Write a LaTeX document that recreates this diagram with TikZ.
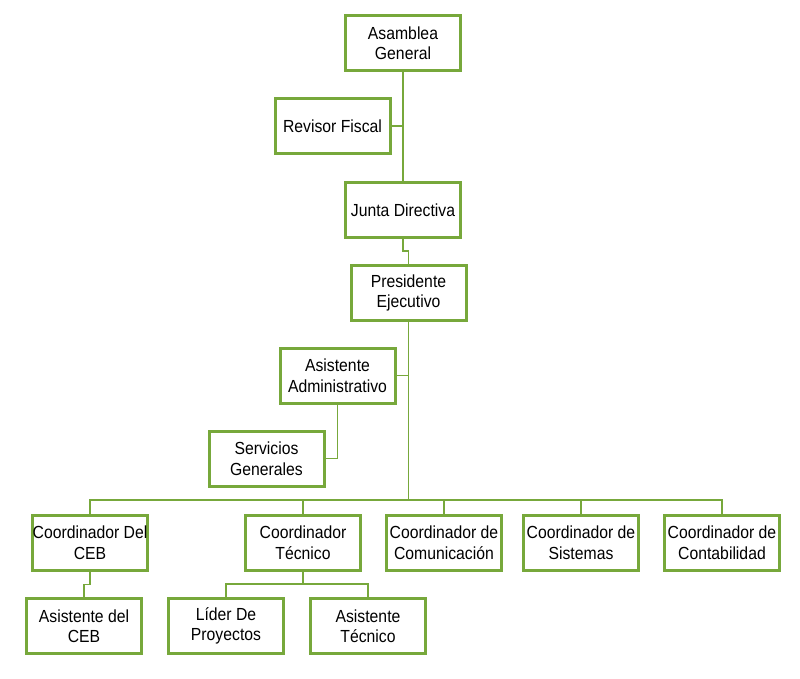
\documentclass[tikz,border=0pt]{standalone}
\usepackage{fontspec}
\setmainfont{Liberation Sans}[FakeStretch=0.9]
\definecolor{orggreen}{RGB}{119,168,59}
\begin{document}
\begin{tikzpicture}[x=1pt, y=-1pt, box node/.style={shape=rectangle, draw=orggreen, line width=3pt, fill=white, minimum width=115pt, minimum height=55pt, inner sep=0pt, align=center, font=\fontsize{17.5}{20.5}\selectfont}, link/.style={draw=orggreen, line width=1.5pt}]
\useasboundingbox (0,0) rectangle (800,678);
\node[box node] (A) at (403,43) {Asamblea\\General};
\node[box node] (R) at (332.5,126) {Revisor Fiscal};
\node[box node] (J) at (403,210) {Junta Directiva};
\node[box node] (P) at (408.5,293) {Presidente\\Ejecutivo};
\node[box node] (AA) at (337.5,375.5) {Asistente\\Administrativo};
\node[box node] (SG) at (266.5,458.5) {Servicios\\Generales};
\node[box node] (CEB) at (90,542.5) {Coordinador Del\\CEB};
\node[box node] (CT) at (303,542.5) {Coordinador\\Técnico};
\node[box node] (CC) at (444,542.5) {Coordinador de\\Comunicación};
\node[box node] (CS) at (581,542.5) {Coordinador de\\Sistemas};
\node[box node] (CCo) at (722,542.5) {Coordinador de\\Contabilidad};
\node[box node] (ACEB) at (84,626) {Asistente del\\CEB};
\node[box node] (LP) at (226,626) {Líder De\\Proyectos};
\node[box node] (AT) at (368,626) {Asistente\\Técnico};
\coordinate (bar) at (408.5,500);
\coordinate (tbar) at (303,584);
\draw[link] (A) -- (J);
\draw[link] (R) -- (R -| A);
\draw[link] (J.south) -- ++(0,12) -| (P.north);
\draw[link] (P) -- (bar);
\draw[link] (AA) -- (AA -| P);
\draw[link] (AA) |- (SG);
\draw[link] (CEB) |- (bar) -| (CCo);
\foreach \n in {CT,CC,CS}
  \draw[link] (\n) -- (\n |- bar);
\draw[link] (CEB.south) -- ++(0,13) -| (ACEB.north);
\draw[link] (CT) -- (tbar);
\draw[link] (LP) |- (tbar) -| (AT);
\end{tikzpicture}
\end{document}
